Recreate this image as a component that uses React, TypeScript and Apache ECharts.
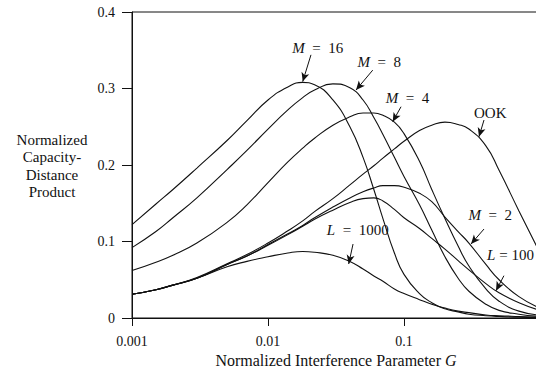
import React, { useEffect, useRef } from "react";
import * as echarts from "echarts";

// Interference parameter G (x values shared by every curve)
const G = [0.001, 0.0015, 0.002, 0.003, 0.005, 0.007, 0.01, 0.014, 0.018, 0.022, 0.03, 0.04, 0.05, 0.06, 0.07, 0.085, 0.1, 0.13, 0.16, 0.2, 0.25, 0.3, 0.4, 0.5, 0.7, 1];

// Normalized capacity-distance product for each curve
const M16 = [0.122, 0.149, 0.168, 0.196, 0.232, 0.258, 0.285, 0.302, 0.308, 0.305, 0.285, 0.25, 0.21, 0.168, 0.13, 0.085, 0.057, 0.032, 0.02, 0.012, 0.008, 0.005, 0.003, 0.002, 0.001, 0.0005];
const M8 = [0.092, 0.113, 0.131, 0.157, 0.194, 0.219, 0.247, 0.272, 0.288, 0.298, 0.306, 0.301, 0.285, 0.262, 0.24, 0.21, 0.185, 0.148, 0.115, 0.08, 0.052, 0.035, 0.018, 0.01, 0.005, 0.002];
const M4 = [0.062, 0.073, 0.082, 0.098, 0.125, 0.148, 0.177, 0.204, 0.222, 0.235, 0.252, 0.263, 0.268, 0.268, 0.265, 0.256, 0.241, 0.205, 0.168, 0.13, 0.094, 0.068, 0.038, 0.022, 0.009, 0.004];
const M2 = [0.031, 0.037, 0.043, 0.052, 0.07, 0.081, 0.096, 0.11, 0.121, 0.131, 0.145, 0.157, 0.165, 0.17, 0.173, 0.173, 0.171, 0.163, 0.152, 0.132, 0.113, 0.098, 0.07, 0.05, 0.028, 0.013];
const OOK = [0.031, 0.037, 0.043, 0.053, 0.071, 0.083, 0.098, 0.114, 0.127, 0.139, 0.156, 0.174, 0.188, 0.199, 0.209, 0.221, 0.231, 0.245, 0.252, 0.256, 0.253, 0.247, 0.225, 0.193, 0.14, 0.085];
const L100 = [0.031, 0.037, 0.043, 0.052, 0.07, 0.081, 0.095, 0.109, 0.12, 0.129, 0.141, 0.151, 0.156, 0.157, 0.153, 0.142, 0.131, 0.117, 0.104, 0.09, 0.075, 0.063, 0.045, 0.033, 0.02, 0.01];
const L1000 = [0.031, 0.037, 0.043, 0.052, 0.067, 0.074, 0.08, 0.085, 0.087, 0.086, 0.082, 0.074, 0.064, 0.055, 0.048, 0.038, 0.032, 0.024, 0.018, 0.013, 0.009, 0.007, 0.004, 0.003, 0.002, 0.001];

const CURVES = [M16, M8, M4, M2, OOK, L100, L1000];
const X_TICK_LABELS = ["0.001", "0.01", "0.1"];

// Annotations (data coordinates)
const SP = "\u2002";
const LABELS: { text: string; at: [number, number]; left?: boolean }[] = [
  { text: `{i|M}${SP}=${SP}16`, at: [0.0232, 0.353] },
  { text: `{i|M}${SP}=${SP}8`, at: [0.0658, 0.335] },
  { text: `{i|M}${SP}=${SP}4`, at: [0.1061, 0.2876] },
  { text: "OOK", at: [0.4305, 0.2684] },
  { text: `{i|M}${SP}=${SP}2`, at: [0.4305, 0.135] },
  { text: `{i|L}${SP}=${SP}1000`, at: [0.0457, 0.115] },
  { text: "{i|L} = 100", at: [0.405, 0.0824], left: true },
];
const ARROWS: { from: [number, number]; to: [number, number] }[] = [
  { from: [0.0207, 0.344], to: [0.018, 0.309] },
  { from: [0.0589, 0.324], to: [0.0444, 0.298] },
  { from: [0.0951, 0.2762], to: [0.0826, 0.2566] },
  { from: [0.3875, 0.2588], to: [0.356, 0.237] },
  { from: [0.3875, 0.1163], to: [0.311, 0.0967] },
  { from: [0.0422, 0.0967], to: [0.0392, 0.0706] },
  { from: [0.543, 0.0553], to: [0.475, 0.0357] },
];

const FONT = "'Liberation Serif', 'DejaVu Serif', serif";
const INK = "#111";

export default function App() {
  const ref = useRef<HTMLDivElement>(null);
  useEffect(() => {
    document.body.style.margin = "0";
    if (!ref.current) return;
    const chart = echarts.init(ref.current, null, { renderer: "svg" });
    const series: any[] = CURVES.map((ys) => ({
      type: "line",
      data: G.map((g, i) => [g, ys[i]]),
      smooth: true,
      symbol: "none",
      silent: true,
      lineStyle: { color: INK, width: 1.1 },
      z: 2,
    }));
    series.push({
      type: "line",
      data: [],
      silent: true,
      markLine: {
        silent: true,
        symbol: ["none", "arrow"],
        symbolSize: [6, 9],
        label: { show: false },
        lineStyle: { color: INK, width: 1, type: "solid" },
        data: ARROWS.map((a) => [{ coord: a.from }, { coord: a.to }]),
      },
      markPoint: {
        silent: true,
        symbol: "circle",
        symbolSize: 1,
        itemStyle: { color: "rgba(0,0,0,0)" },
        data: LABELS.map((l) => ({
          coord: l.at,
          label: {
            show: true,
            position: l.left ? "right" : "inside",
            distance: 0,
            formatter: l.text,
            color: INK,
            fontFamily: FONT,
            fontSize: 15,
            rich: {
              i: { fontStyle: "italic", fontFamily: FONT, fontSize: 15, color: INK },
            },
          },
        })),
      },
    });
    chart.setOption({
      animation: false,
      grid: {
        left: 132,
        right: -4,
        top: 12,
        bottom: 50,
        containLabel: false,
        outerBoundsMode: "none",
        show: true,
        borderColor: INK,
        borderWidth: 1,
        backgroundColor: "transparent",
      },
      xAxis: {
        type: "log",
        logBase: 10,
        min: 0.001,
        max: 1,
        axisLine: { lineStyle: { color: INK, width: 1 } },
        axisTick: { show: true, length: 8, lineStyle: { color: INK } },
        minorTick: { show: false },
        splitLine: { show: false },
        axisLabel: {
          margin: 16,
          color: INK,
          fontFamily: FONT,
          fontSize: 14,
          formatter: (v: number) => {
            const s = X_TICK_LABELS.find((t) => Math.abs(parseFloat(t) - v) < v * 1e-6);
            return s || "";
          },
        },
        name: "Normalized Interference Parameter {i|G}",
        nameLocation: "middle",
        nameGap: 30,
        nameTextStyle: {
          color: INK,
          fontFamily: FONT,
          fontSize: 16,
          rich: { i: { fontStyle: "italic", fontFamily: FONT, fontSize: 16, color: INK } },
        },
      },
      yAxis: {
        type: "value",
        min: 0,
        max: 0.4,
        interval: 0.1,
        axisLine: { show: true, lineStyle: { color: INK, width: 1 } },
        axisTick: { show: true, length: 10, lineStyle: { color: INK } },
        splitLine: { show: false },
        axisLabel: { margin: 17, color: INK, fontFamily: FONT, fontSize: 14 },
      },
      graphic: [
        {
          type: "text",
          x: 52,
          y: 166,
          style: {
            text: "Normalized\nCapacity-\nDistance\nProduct",
            fill: INK,
            fontFamily: FONT,
            fontSize: 15,
            lineHeight: 17.5,
            align: "center",
            textAlign: "center",
            verticalAlign: "middle",
            textVerticalAlign: "middle",
          },
        },
      ],
      series,
    });
    return () => chart.dispose();
  }, []);
  return <div ref={ref} style={{ width: 536, height: 368, background: "#fff" }} />;
}
